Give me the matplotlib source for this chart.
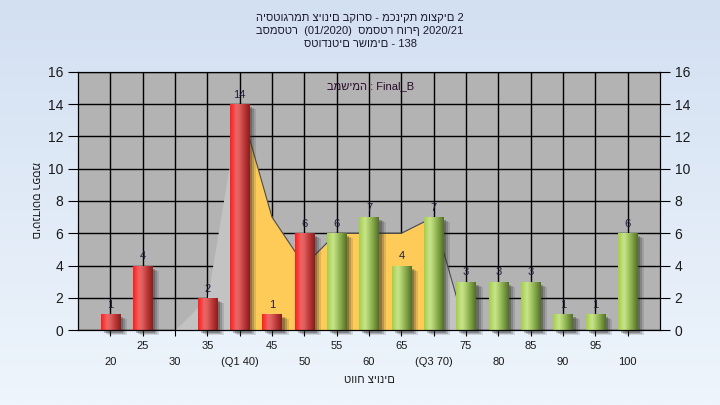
import matplotlib.pyplot as plt
import numpy as np
from matplotlib import transforms
from matplotlib.colors import LinearSegmentedColormap

plt.rcParams['font.family'] = ['Liberation Sans', 'DejaVu Sans']

#%% data
grades = [20, 25, 30, 35, 40, 45, 50, 55, 60, 65, 70, 75, 80, 85, 90, 95, 100]
counts = [1, 4, 0, 2, 14, 1, 6, 6, 7, 4, 7, 3, 3, 3, 1, 1, 6]
trend = [0, 0, 0, 2, 14, 7, 4, 6, 6, 6, 7, 0, 0, 0, 0, 0, 0]
xlabels = ['20', '25', '30', '35', '(Q1 40)', '45', '50', '55', '60', '65',
           '(Q3 70)', '75', '80', '85', '90', '95', '100']
q1_idx, q3_idx = 4, 10
pass_grade = 55

title_lines = ['היסטוגרמת ציונים בקורס - מכניקת מוצקים 2',
               'בסמסטר  (01/2020)  סמסטר חורף 2020/21',
               'סטודנטים רשומים - 138']
legend_txt = 'במשימה : Final_B'
xtitle = 'טווח ציונים'
ytitle = 'מספר סטודנטים'

#%% figure + background gradient
fig = plt.figure(figsize=(7.2, 4.05), dpi=100)
bg = fig.add_axes([0, 0, 1, 1], zorder=-10)
bgcmap = LinearSegmentedColormap.from_list('bg', ['#d3e0f2', '#eef5fc'])
bg.imshow(np.linspace(0, 1, 256).reshape(-1, 1), aspect='auto', cmap=bgcmap,
          extent=[0, 1, 0, 1], origin='upper')
bg.axis('off')

ax = fig.add_axes([78/720, 1-330/405, 582/720, 258/405])
ax.set_facecolor('#b3b3b3')
x = np.arange(len(grades))

# area behind bars
tr = np.array(trend)
ax.fill_between(x, tr, color='#c3c3c3', lw=0, zorder=1)
seg = slice(q1_idx, q3_idx + 1)
ax.fill_between(x[seg], tr[seg], color='#ffcb58', lw=0, zorder=1.1)
seg2 = slice(q1_idx, q3_idx + 2)
ax.plot(x[seg2], tr[seg2], color='#4a4a4a', lw=0.8, zorder=1.2)

#%% bars with shadow and gradient
w = 0.6
red_cm = LinearSegmentedColormap.from_list('r', [(0, '#ff1e1e'), (0.3, '#ef6262'),
                                                 (0.45, '#e06060'), (0.75, '#b83434'), (1, '#8a1e1e')])
green_cm = LinearSegmentedColormap.from_list('g', [(0, '#a4ce4a'), (0.3, '#c8e48c'),
                                                   (0.45, '#b2d270'), (0.75, '#7ea044'), (1, '#526f28')])

for k, a in enumerate([0.30, 0.22, 0.14]):
    off = transforms.offset_copy(ax.transData, fig=fig, x=3 + 2*k, y=-3 - k, units='dots')
    ax.bar(x, counts, width=w, color='#2a2a2a', alpha=a, lw=0, zorder=1.5,
           transform=off, clip_on=False)

bars = ax.bar(x, counts, width=w, color='none', lw=0, zorder=2)
grad = np.linspace(0, 1, 64).reshape(1, -1)
for g, b in zip(grades, bars):
    if b.get_height() == 0:
        continue
    x0, y0 = b.get_x(), b.get_y()
    cm = red_cm if g < pass_grade else green_cm
    im = ax.imshow(grad, cmap=cm, aspect='auto', zorder=2.1,
                   extent=[x0, x0 + b.get_width(), y0, y0 + b.get_height()])
    im.set_clip_path(b)

for i, v in enumerate(counts):
    if v == 0:
        continue
    ax.annotate(str(v), (i, v), xytext=(0, 3), textcoords='offset points',
                ha='center', va='bottom', fontsize=8, color='#1e1e3c', zorder=3)

#%% axes
ax.set_xlim(-1, len(grades))
ax.set_ylim(0, 16)
ax.set_yticks(range(0, 17, 2))
ax.set_xticks(x)
ax.set_xticklabels([])
ax.grid(True, color='black', lw=1)
ax.set_axisbelow(True)
ax.tick_params(axis='y', length=7, labelsize=10, labelcolor='#1a1a1a')
ax.tick_params(axis='x', length=4)

ax2 = ax.twinx()
ax2.set_ylim(0, 16)
ax2.set_yticks(range(0, 17, 2))
ax2.tick_params(axis='y', length=7, labelsize=10, labelcolor='#1a1a1a')

for i, lab in enumerate(xlabels):
    dy = -16 if i % 2 else -32
    ax.annotate(lab, (i, 0), xycoords=('data', 'axes fraction'), xytext=(0, dy),
                textcoords='offset pixels', ha='center', va='center', fontsize=8,
                color='#1a1a1a', annotation_clip=False)

ax.text(0.502, 0.946, legend_txt, transform=ax.transAxes, ha='center', va='center',
        fontsize=8, color='#2a0a2a')

#%% titles
for k, t in enumerate(title_lines):
    fig.text(0.5, 1 - (18 + 13*k)/405, t, ha='center', va='center', fontsize=8, color='#1a1a2a')
fig.text(369/720, 1 - 380/405, xtitle, ha='center', va='center', fontsize=8, color='#1a1a1a')
fig.text(35/720, 1 - 200/405, ytitle, ha='center', va='center', fontsize=8,
         rotation=270, color='#1a1a1a')

fig.savefig('out.png', dpi=100)
